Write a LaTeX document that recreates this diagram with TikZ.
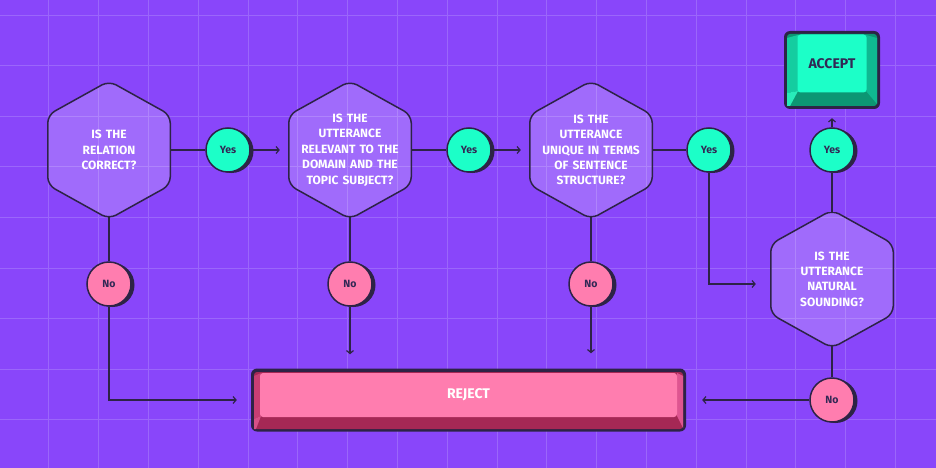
\documentclass[tikz,border=0pt]{standalone}
\usepackage{fontspec}
\setmainfont{Fira Sans}
\usetikzlibrary{positioning}
\usetikzlibrary{arrows.meta}
\usetikzlibrary{shadows}
\definecolor{bgc}{RGB}{137,70,250}
\definecolor{gridc}{RGB}{155,102,250}
\definecolor{linec}{RGB}{45,35,70}
\definecolor{yesc}{RGB}{28,255,200}
\definecolor{noc}{RGB}{255,125,175}
\definecolor{labc}{RGB}{50,40,85}
\definecolor{accbot}{RGB}{12,150,115}
\definecolor{accleft}{RGB}{20,205,160}
\definecolor{acclight}{RGB}{40,235,185}
\definecolor{accright}{RGB}{15,185,145}
\definecolor{rejbot}{RGB}{165,40,85}
\definecolor{rejleft}{RGB}{200,62,115}
\definecolor{rejlight}{RGB}{215,80,135}
\definecolor{rejright}{RGB}{222,85,145}
\tikzset{
    gridline/.style = {draw=gridc, line width=0.8pt},
    quest/.style = {rectangle, minimum width=124pt, minimum height=134pt, inner sep=0pt, text width=118pt, align=center, text=white,
      font=\bfseries\fontsize{12}{15.4}\selectfont,
      path picture={\draw[line width=1.5pt, draw=linec, fill=white, fill opacity=0.2, rounded corners=8pt]
        ([yshift=69pt]path picture bounding box.center)
        -- ([xshift=61.25pt,yshift=35pt]path picture bounding box.center)
        -- ([xshift=61.25pt,yshift=-35pt]path picture bounding box.center)
        -- ([yshift=-69pt]path picture bounding box.center)
        -- ([xshift=-61.25pt,yshift=-35pt]path picture bounding box.center)
        -- ([xshift=-61.25pt,yshift=35pt]path picture bounding box.center) -- cycle;}},
    yesnode/.style = {circle, fill=yesc, draw=linec, line width=1.5pt, minimum size=44pt, inner sep=0pt, text=labc,
      font=\bfseries\fontsize{10.5}{12}\selectfont, drop shadow={shadow xshift=3.5pt, shadow yshift=-1pt, fill=linec, opacity=1}},
    nonode/.style = {yesnode, fill=noc},
    keyout/.style = {rectangle, rounded corners=6pt, fill=linec, inner sep=0pt},
    keyface/.style = {rectangle, rounded corners=3pt, inner sep=0pt, font=\bfseries\fontsize{14}{16}\selectfont},
    edgep/.style = {line width=1.2pt, draw=linec},
    edgea/.style = {-{Straight Barb[length=3pt,width=7pt]}, line width=1.2pt, draw=linec}
}
\begin{document}
\begin{tikzpicture}[x=1pt, y=-1pt]
\useasboundingbox (0,0) rectangle (936,468);
\fill[bgc] (0,0) rectangle (936,468);
\foreach \gx in {1,...,18} \draw[gridline] ({-1+49.8*\gx},0) -- ({-1+49.8*\gx},468);
\foreach \gy in {0,...,8} \draw[gridline] (0,{15+50.6*\gy}) -- (936,{15+50.6*\gy});

% questions
\node[quest] (q1) at (109,150) {IS THE\\RELATION\\CORRECT?};
\node[quest] (q2) at (350,150) {IS THE\\UTTERANCE\\RELEVANT TO THE\\DOMAIN AND THE\\TOPIC SUBJECT?};
\node[quest] (q3) at (591,150) {IS THE\\UTTERANCE\\UNIQUE IN TERMS\\OF SENTENCE\\STRUCTURE?};
\node[quest] (q4) at (832,279) {IS THE\\UTTERANCE\\NATURAL\\SOUNDING?};

\node[yesnode] (y1) at (228,150) {Yes};
\node[yesnode] (y2) at (469,150) {Yes};
\node[yesnode] (y3) at (709,150) {Yes};
\node[yesnode] (y4) at (832,150) {Yes};

\node[nonode] (n1) at (109,284) {No};
\node[nonode] (n2) at (350,284) {No};
\node[nonode] (n3) at (591,284) {No};
\node[nonode] (n4) at (832,400) {No};

% accept key
\node[keyout, minimum width=96pt, minimum height=78pt] (accept) at (832,70) {};
\fill[accbot, rounded corners=3pt] (787,34) rectangle (877,106);
\fill[accleft] (787,38) -- (798,35) -- (798,91) -- (787,93) -- cycle;
\fill[acclight] (787,93) -- (798,91) -- (790,106) -- (787,106) -- cycle;
\fill[accright] (877,38) -- (866,35) -- (866,91) -- (877,104) -- cycle;
\node[keyface, fill=yesc, minimum width=69pt, minimum height=58pt, text=labc] (acceptface) at (832,63.5) {ACCEPT};

% reject key
\node[keyout, minimum width=435pt, minimum height=63pt] (reject) at (468.5,400) {};
\fill[rejbot, rounded corners=3pt] (254,372) rectangle (683,429);
\fill[rejleft] (254,376) -- (261,373) -- (261,416) -- (254,419) -- cycle;
\fill[rejlight] (254,419) -- (261,416) -- (256,429) -- (254,429) -- cycle;
\fill[rejright] (683,376) -- (677,373) -- (677,416) -- (683,428) -- cycle;
\node[keyface, fill=noc, minimum width=417pt, minimum height=44pt, text=white] (rejectface) at (468.5,395) {REJECT};

\draw[edgep] (q1) -- (y1);
\draw[edgea, shorten >=8pt] (y1) -- (q2);
\draw[edgep] (q2) -- (y2);
\draw[edgea, shorten >=8pt] (y2) -- (q3);
\draw[edgep] (q3) -- (y3);
\draw[edgea, shorten >=14pt] (y3) |- ([yshift=-5pt]q4.west);
\draw[edgep] (q4) -- (y4);
\draw[edgea, shorten >=9pt] (y4) -- (accept);

\draw[edgep] (q1) -- (n1);
\draw[edgep] (q2) -- (n2);
\draw[edgep] (q3) -- (n3);
\draw[edgep] (q4) -- (n4);
\draw[edgea, shorten >=14pt] (n1) |- (reject);
\draw[edgea, shorten >=14pt] (n2) -- (n2 |- reject.north);
\draw[edgea, shorten >=15pt] (n3) -- (n3 |- reject.north);
\draw[edgea, shorten >=16pt] (n4) -- (reject);
\end{tikzpicture}
\end{document}
